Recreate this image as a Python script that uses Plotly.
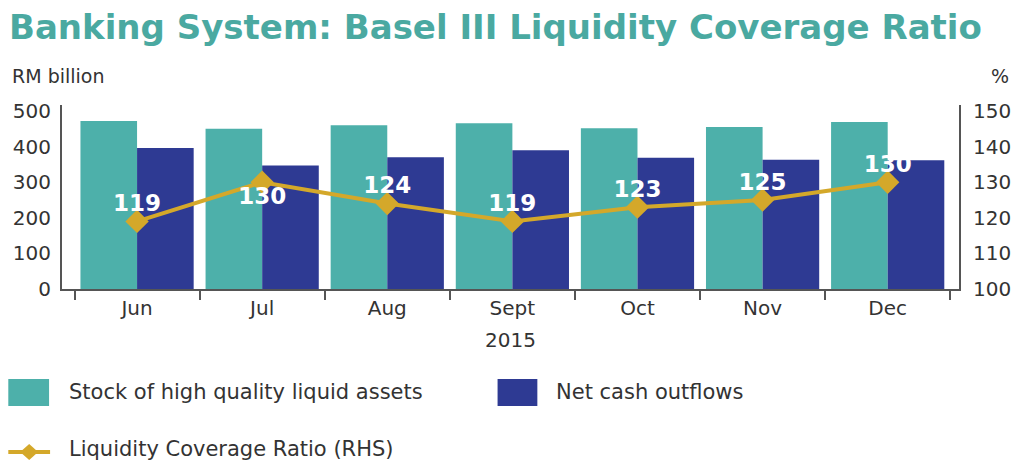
import plotly.graph_objects as go

months = ["Jun", "Jul", "Aug", "Sept", "Oct", "Nov", "Dec"]
hqla = [472, 450, 460, 466, 452, 455, 469]
net_outflows = [396, 347, 370, 390, 369, 363, 362]
lcr = [119, 130, 124, 119, 123, 125, 130]
lcr_text_pos = ["top center", "bottom center", "top center", "top center",
                "top center", "top center", "top center"]
left_ticks = [0, 100, 200, 300, 400, 500]
right_ticks = [100, 110, 120, 130, 140, 150]

TEAL = "#4DB0AA"
NAVY = "#2E3A93"
GOLD = "#D4A82A"
AXIS = "#555555"
TXT = "#333333"
FONT = "DejaVu Sans"

W, H = 1023, 461
L, R, T, B = 62, 59, 105, 172
PW, PH = W - L - R, H - T - B


def px(x):
    return (x - L) / PW


def py(y):
    return (H - B - y) / PH


fig = go.Figure()
fig.add_trace(go.Bar(x=months, y=hqla, name="Stock of high quality liquid assets",
                     marker=dict(color=TEAL, line=dict(width=0))))
fig.add_trace(go.Bar(x=months, y=net_outflows, name="Net cash outflows",
                     marker=dict(color=NAVY, line=dict(width=0))))
fig.add_trace(go.Scatter(x=months, y=lcr, yaxis="y2", name="Liquidity Coverage Ratio (RHS)",
                         mode="lines+markers",
                         line=dict(color=GOLD, width=4),
                         marker=dict(symbol="diamond", size=18, color=GOLD)))
fig.add_trace(go.Scatter(x=months, y=lcr, yaxis="y2", mode="markers+text",
                         text=[str(v) for v in lcr], textposition=lcr_text_pos,
                         textfont=dict(family=FONT, size=23, color="white", weight="bold"),
                         marker=dict(size=6, opacity=0), hoverinfo="skip"))

shapes = [
    dict(type="rect", xref="paper", yref="paper", x0=px(8), x1=px(49), y0=py(406), y1=py(379),
         fillcolor=TEAL, line=dict(width=0)),
    dict(type="rect", xref="paper", yref="paper", x0=px(500), x1=px(540), y0=py(406), y1=py(379),
         fillcolor=NAVY, line=dict(width=0)),
    dict(type="line", xref="paper", yref="paper", x0=px(8), x1=px(50), y0=py(452), y1=py(452),
         line=dict(color=GOLD, width=4)),
    dict(type="path", xref="paper", yref="paper",
         path=f"M {px(29)},{py(444)} L {px(38)},{py(452)} L {px(29)},{py(460)} L {px(20)},{py(452)} Z",
         fillcolor=GOLD, line=dict(width=0)),
]

annotations = [
    dict(text="Banking System: Basel III Liquidity Coverage Ratio", xref="paper", yref="paper",
         x=px(7), y=py(27), xanchor="left", yanchor="middle", showarrow=False,
         font=dict(family=FONT, size=34, color="#4AA9A1", weight="bold")),
    dict(text="RM billion", xref="paper", yref="paper", x=px(10), y=py(76),
         xanchor="left", yanchor="middle", showarrow=False, font=dict(family=FONT, size=19, color=TXT)),
    dict(text="%", xref="paper", yref="paper", x=px(1016), y=py(76),
         xanchor="right", yanchor="middle", showarrow=False, font=dict(family=FONT, size=19, color=TXT)),
    dict(text="Stock of high quality liquid assets", xref="paper", yref="paper", x=px(67), y=py(392),
         xanchor="left", yanchor="middle", showarrow=False, font=dict(family=FONT, size=21, color=TXT)),
    dict(text="Net cash outflows", xref="paper", yref="paper", x=px(557), y=py(392),
         xanchor="left", yanchor="middle", showarrow=False, font=dict(family=FONT, size=21, color=TXT)),
    dict(text="Liquidity Coverage Ratio (RHS)", xref="paper", yref="paper", x=px(67), y=py(449),
         xanchor="left", yanchor="middle", showarrow=False, font=dict(family=FONT, size=21, color=TXT)),
]

fig.update_layout(
    width=W, height=H,
    margin=dict(l=L, r=R, t=T, b=B, pad=0),
    paper_bgcolor="white", plot_bgcolor="white",
    barmode="group", bargap=0.095, bargroupgap=0,
    showlegend=False,
    font=dict(family=FONT, color=TXT),
    shapes=shapes, annotations=annotations,
    xaxis=dict(range=[-0.6, 6.57], showline=True, linecolor=AXIS, linewidth=2,
               ticks="outside", tickson="boundaries", ticklen=9, tickcolor=AXIS, tickwidth=2,
               tickfont=dict(size=20, color=TXT),
               title=dict(text="2015", standoff=14, font=dict(size=20, color=TXT)),
               showgrid=False, zeroline=False),
    yaxis=dict(range=[0, 517], tickvals=left_ticks, showline=True, linecolor=AXIS, linewidth=2,
               ticks="outside", ticklen=5, tickcolor="rgba(0,0,0,0)",
               tickfont=dict(size=20, color=TXT), showgrid=False, zeroline=False),
    yaxis2=dict(range=[100, 151.7], tickvals=right_ticks, overlaying="y", side="right",
                showline=True, linecolor=AXIS, linewidth=2,
                ticks="outside", ticklen=8, tickcolor="rgba(0,0,0,0)",
                tickfont=dict(size=20, color=TXT), showgrid=False, zeroline=False),
)

fig.write_html("out.html", config={"displayModeBar": False},
               post_script="document.body.style.margin='0';document.body.style.overflow='hidden';")
